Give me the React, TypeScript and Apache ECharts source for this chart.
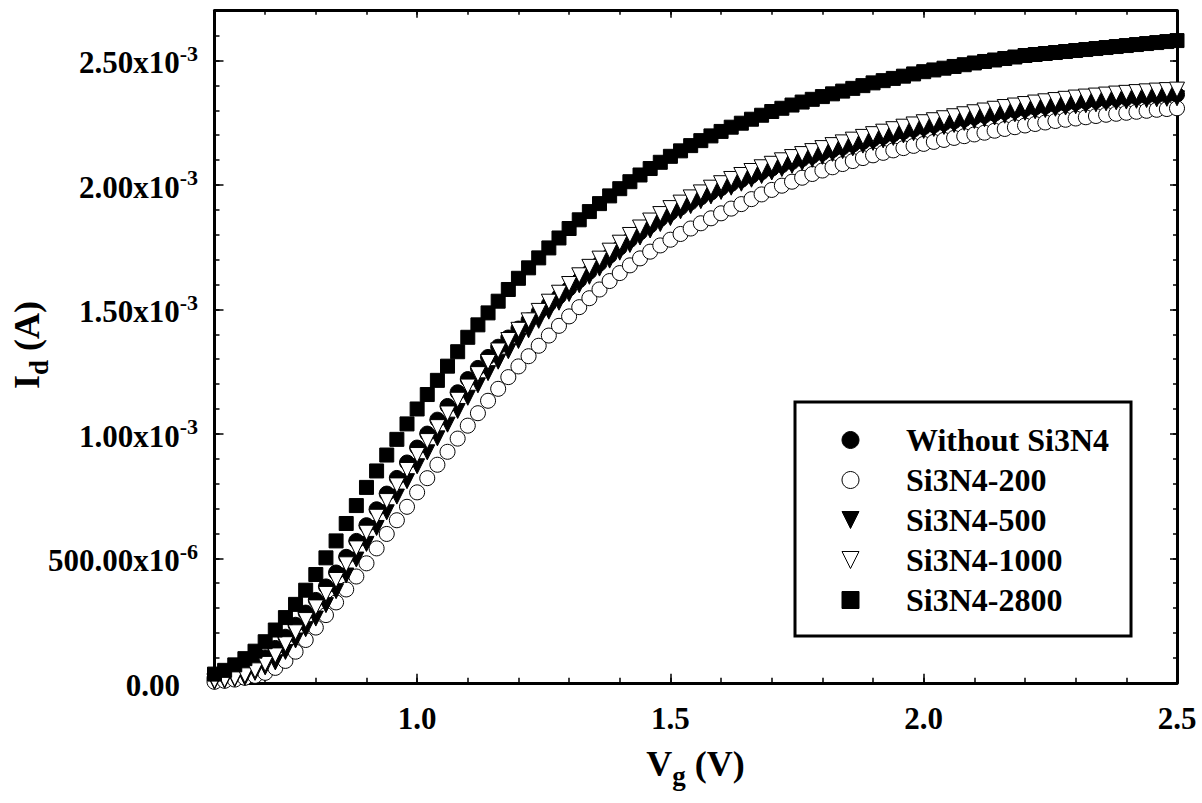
import React, { useEffect, useRef } from 'react';
import * as echarts from 'echarts';

// Gate voltage sweep (V)
const gateVoltage = [
  0.60, 0.62, 0.64, 0.66, 0.68, 0.70, 0.72, 0.74, 0.76, 0.78,
  0.80, 0.82, 0.84, 0.86, 0.88, 0.90, 0.92, 0.94, 0.96, 0.98,
  1.00, 1.02, 1.04, 1.06, 1.08, 1.10, 1.12, 1.14, 1.16, 1.18,
  1.20, 1.22, 1.24, 1.26, 1.28, 1.30, 1.32, 1.34, 1.36, 1.38,
  1.40, 1.42, 1.44, 1.46, 1.48, 1.50, 1.52, 1.54, 1.56, 1.58,
  1.60, 1.62, 1.64, 1.66, 1.68, 1.70, 1.72, 1.74, 1.76, 1.78,
  1.80, 1.82, 1.84, 1.86, 1.88, 1.90, 1.92, 1.94, 1.96, 1.98,
  2.00, 2.02, 2.04, 2.06, 2.08, 2.10, 2.12, 2.14, 2.16, 2.18,
  2.20, 2.22, 2.24, 2.26, 2.28, 2.30, 2.32, 2.34, 2.36, 2.38,
  2.40, 2.42, 2.44, 2.46, 2.48, 2.50,
];

// Drain current per device, in mA
const idWithout = [
  0.018, 0.024, 0.032, 0.048, 0.072, 0.102, 0.140, 0.185, 0.233, 0.282,
  0.333, 0.387, 0.443, 0.506, 0.570, 0.633, 0.697, 0.760, 0.823, 0.885,
  0.945, 1.001, 1.057, 1.112, 1.167, 1.220, 1.265, 1.309, 1.350, 1.387,
  1.423, 1.456, 1.489, 1.521, 1.552, 1.584, 1.617, 1.651, 1.684, 1.716,
  1.748, 1.779, 1.809, 1.837, 1.863, 1.887, 1.909, 1.930, 1.950, 1.969,
  1.987, 2.004, 2.020, 2.036, 2.051, 2.065, 2.079, 2.092, 2.104, 2.116,
  2.128, 2.140, 2.151, 2.162, 2.173, 2.184, 2.194, 2.204, 2.214, 2.223,
  2.232, 2.240, 2.248, 2.256, 2.264, 2.272, 2.279, 2.286, 2.293, 2.299,
  2.305, 2.311, 2.316, 2.321, 2.326, 2.331, 2.335, 2.339, 2.343, 2.347,
  2.350, 2.353, 2.356, 2.359, 2.361, 2.363,
];

const id200 = [
  0.004, 0.008, 0.013, 0.020, 0.028, 0.040, 0.060, 0.088, 0.125, 0.172,
  0.222, 0.272, 0.323, 0.375, 0.427, 0.480, 0.540, 0.598, 0.653, 0.707,
  0.765, 0.822, 0.876, 0.928, 0.981, 1.033, 1.083, 1.133, 1.181, 1.228,
  1.271, 1.312, 1.354, 1.395, 1.434, 1.472, 1.509, 1.545, 1.580, 1.614,
  1.646, 1.677, 1.705, 1.732, 1.757, 1.780, 1.803, 1.825, 1.846, 1.866,
  1.886, 1.905, 1.923, 1.943, 1.962, 1.980, 1.997, 2.013, 2.029, 2.044,
  2.058, 2.071, 2.084, 2.096, 2.108, 2.119, 2.129, 2.139, 2.148, 2.157,
  2.165, 2.173, 2.181, 2.189, 2.196, 2.203, 2.210, 2.218, 2.225, 2.232,
  2.239, 2.245, 2.251, 2.257, 2.262, 2.267, 2.272, 2.277, 2.282, 2.286,
  2.290, 2.294, 2.298, 2.302, 2.305, 2.308,
];

const id500 = [
  0.004, 0.008, 0.014, 0.020, 0.040, 0.062, 0.082, 0.124, 0.170, 0.215,
  0.258, 0.312, 0.368, 0.431, 0.495, 0.558, 0.622, 0.685, 0.748, 0.810,
  0.870, 0.926, 0.982, 1.037, 1.092, 1.145, 1.195, 1.244, 1.290, 1.332,
  1.373, 1.416, 1.454, 1.491, 1.527, 1.562, 1.597, 1.631, 1.664, 1.696,
  1.728, 1.759, 1.789, 1.817, 1.843, 1.867, 1.894, 1.915, 1.935, 1.954,
  1.972, 1.989, 2.005, 2.021, 2.036, 2.050, 2.064, 2.077, 2.089, 2.101,
  2.113, 2.125, 2.136, 2.147, 2.158, 2.169, 2.179, 2.189, 2.199, 2.208,
  2.217, 2.225, 2.233, 2.241, 2.249, 2.257, 2.264, 2.271, 2.278, 2.284,
  2.290, 2.296, 2.301, 2.306, 2.311, 2.316, 2.320, 2.324, 2.328, 2.332,
  2.335, 2.338, 2.341, 2.344, 2.346, 2.348,
];

const id1000 = [
  0.008, 0.012, 0.018, 0.030, 0.050, 0.076, 0.110, 0.155, 0.203, 0.252,
  0.303, 0.357, 0.413, 0.476, 0.540, 0.603, 0.667, 0.730, 0.793, 0.855,
  0.915, 0.971, 1.027, 1.082, 1.137, 1.190, 1.240, 1.289, 1.335, 1.377,
  1.418, 1.456, 1.494, 1.531, 1.567, 1.602, 1.637, 1.671, 1.704, 1.736,
  1.768, 1.799, 1.829, 1.857, 1.883, 1.907, 1.929, 1.950, 1.970, 1.989,
  2.007, 2.024, 2.040, 2.056, 2.071, 2.085, 2.099, 2.112, 2.124, 2.136,
  2.148, 2.160, 2.171, 2.182, 2.193, 2.204, 2.214, 2.224, 2.234, 2.243,
  2.252, 2.260, 2.268, 2.276, 2.284, 2.292, 2.299, 2.306, 2.313, 2.319,
  2.325, 2.331, 2.336, 2.341, 2.346, 2.351, 2.355, 2.359, 2.363, 2.367,
  2.370, 2.373, 2.376, 2.379, 2.381, 2.383,
];

const id2800 = [
  0.035, 0.050, 0.072, 0.097, 0.127, 0.165, 0.212, 0.262, 0.315, 0.372,
  0.435, 0.502, 0.570, 0.640, 0.712, 0.785, 0.851, 0.915, 0.978, 1.040,
  1.100, 1.158, 1.215, 1.272, 1.330, 1.388, 1.438, 1.486, 1.533, 1.580,
  1.625, 1.667, 1.707, 1.747, 1.787, 1.825, 1.860, 1.893, 1.925, 1.956,
  1.985, 2.013, 2.040, 2.066, 2.091, 2.115, 2.137, 2.158, 2.178, 2.197,
  2.215, 2.232, 2.248, 2.264, 2.280, 2.295, 2.308, 2.321, 2.333, 2.344,
  2.355, 2.366, 2.377, 2.388, 2.399, 2.410, 2.419, 2.428, 2.437, 2.446,
  2.455, 2.462, 2.469, 2.476, 2.483, 2.490, 2.496, 2.502, 2.508, 2.514,
  2.520, 2.524, 2.528, 2.532, 2.536, 2.540, 2.544, 2.548, 2.552, 2.556,
  2.560, 2.564, 2.568, 2.572, 2.576, 2.580,
];

const seriesNames = ['Without Si3N4', 'Si3N4-200', 'Si3N4-500', 'Si3N4-1000', 'Si3N4-2800'];

// Axis ticks
const vgMajorTicks = [1.0, 1.5, 2.0, 2.5];
const idMajorTicks = [0, 0.0005, 0.001, 0.0015, 0.002, 0.0025];

const SERIF = '"Liberation Serif", "Times New Roman", serif';

// Downward-pointing triangle used as a legend icon
const DOWN_TRIANGLE = 'path://M0,0L20,0L10,20Z';

function toPoints(current: number[]) {
  return gateVoltage.map((v, i) => [v, current[i] * 1e-3]);
}

function idLabel(v: number): string {
  if (v === 0) return '{m|0.00}{gap| }';
  if (v < 0.00099) return `{m|${(v * 1e6).toFixed(2)}x10}{s|-6}`;
  return `{m|${(v * 1e3).toFixed(2)}x10}{s|-3}`;
}

// Rich styles for a title with a lowered subscript
const titleRich = {
  m: { fontFamily: SERIF, fontWeight: 'bold', fontSize: 36, lineHeight: 44, verticalAlign: 'top', fill: '#000' },
  s: { fontFamily: SERIF, fontWeight: 'bold', fontSize: 27, lineHeight: 44, verticalAlign: 'bottom', fill: '#000' },
};

export default function App() {
  const ref = useRef<HTMLDivElement>(null);

  useEffect(() => {
    if (!ref.current) return;
    const chart = echarts.init(ref.current, undefined, { renderer: 'svg' });

    const black = '#000';
    const tickStyle = { color: black, width: 1.5 };
    const vgRange = { min: 0.6, max: 2.5 };
    const idRange = { min: 0, max: 0.0027 };

    const markerBase = (fill: string) => ({
      color: fill,
      borderColor: black,
      borderWidth: 1,
      opacity: 1,
    });

    chart.setOption({
      animation: false,
      backgroundColor: '#fff',
      grid: {
        left: 214.5,
        top: 10.7,
        right: 25,
        bottom: 120.2,
        containLabel: false,
        outerBoundsMode: 'none',
      },
      xAxis: [
        {
          type: 'value',
          position: 'bottom',
          ...vgRange,
          axisLine: { show: true, onZero: false, lineStyle: { color: black, width: 3 } },
          axisTick: { show: true, inside: true, length: 9, lineStyle: tickStyle, customValues: vgMajorTicks },
          axisLabel: {
            show: true,
            customValues: vgMajorTicks,
            margin: 20,
            formatter: (v: number) => v.toFixed(1),
            fontFamily: SERIF,
            fontWeight: 'bold',
            fontSize: 31,
            color: black,
          },
          splitLine: { show: false },
        },
        {
          type: 'value',
          position: 'bottom',
          ...vgRange,
          interval: 0.1,
          axisLine: { show: false, onZero: false },
          axisTick: { show: true, inside: true, length: 5, lineStyle: tickStyle },
          axisLabel: { show: false },
          splitLine: { show: false },
        },
        {
          type: 'value',
          position: 'top',
          ...vgRange,
          axisLine: { show: true, onZero: false, lineStyle: { color: black, width: 3 } },
          axisTick: { show: true, inside: true, length: 7, lineStyle: tickStyle, customValues: vgMajorTicks },
          axisLabel: { show: false },
          splitLine: { show: false },
        },
        {
          type: 'value',
          position: 'top',
          ...vgRange,
          interval: 0.1,
          axisLine: { show: false, onZero: false },
          axisTick: { show: true, inside: true, length: 4, lineStyle: tickStyle },
          axisLabel: { show: false },
          splitLine: { show: false },
        },
      ],
      yAxis: [
        {
          type: 'value',
          position: 'left',
          ...idRange,
          axisLine: { show: true, onZero: false, lineStyle: { color: black, width: 3 } },
          axisTick: { show: true, inside: true, length: 9, lineStyle: tickStyle, customValues: idMajorTicks },
          axisLabel: {
            show: true,
            customValues: idMajorTicks,
            margin: 16.5,
            formatter: idLabel,
            color: black,
            rich: {
              m: {
                fontFamily: SERIF,
                fontWeight: 'bold',
                fontSize: 31,
                lineHeight: 36,
                verticalAlign: 'bottom',
                color: black,
              },
              s: {
                fontFamily: SERIF,
                fontWeight: 'bold',
                fontSize: 22,
                lineHeight: 22,
                verticalAlign: 'top',
                color: black,
              },
              gap: { width: 18, fontSize: 31, lineHeight: 36, color: black },
            },
          },
          splitLine: { show: false },
        },
        {
          type: 'value',
          position: 'left',
          ...idRange,
          interval: 0.0001,
          axisLine: { show: false, onZero: false },
          axisTick: { show: true, inside: true, length: 5, lineStyle: tickStyle },
          axisLabel: { show: false },
          splitLine: { show: false },
        },
        {
          type: 'value',
          position: 'right',
          ...idRange,
          axisLine: { show: true, onZero: false, lineStyle: { color: black, width: 3 } },
          axisTick: { show: true, inside: true, length: 7, lineStyle: tickStyle, customValues: idMajorTicks },
          axisLabel: { show: false },
          splitLine: { show: false },
        },
        {
          type: 'value',
          position: 'right',
          ...idRange,
          interval: 0.0001,
          axisLine: { show: false, onZero: false },
          axisTick: { show: true, inside: true, length: 4, lineStyle: tickStyle },
          axisLabel: { show: false },
          splitLine: { show: false },
        },
      ],
      legend: {
        show: true,
        orient: 'vertical',
        left: 795,
        top: 402,
        padding: [22, 22, 20, 46.5],
        itemGap: 8,
        itemWidth: 17,
        itemHeight: 17,
        selectedMode: false,
        backgroundColor: '#fff',
        borderColor: black,
        borderWidth: 3,
        borderRadius: 0,
        itemStyle: { borderWidth: 1, borderColor: black },
        textStyle: {
          fontFamily: SERIF,
          fontWeight: 'bold',
          fontSize: 32,
          color: black,
          padding: [0, 0, 0, 42],
        },
        data: [
          { name: seriesNames[0] },
          { name: seriesNames[1] },
          { name: seriesNames[2], icon: DOWN_TRIANGLE },
          { name: seriesNames[3], icon: DOWN_TRIANGLE },
          { name: seriesNames[4] },
        ],
      },
      graphic: [
        {
          type: 'text',
          x: 695.5,
          y: 767.5,
          style: {
            text: '{m|V}{s|g}{m| (V)}',
            align: 'center',
            verticalAlign: 'middle',
            fill: black,
            rich: titleRich,
          },
        },
        {
          type: 'text',
          x: 30.5,
          y: 345,
          rotation: Math.PI / 2,
          style: {
            text: '{m|I}{s|d}{m| (A)}',
            align: 'center',
            verticalAlign: 'middle',
            fill: black,
            rich: titleRich,
          },
        },
      ],
      series: [
        {
          name: seriesNames[0],
          type: 'scatter',
          data: toPoints(idWithout),
          symbol: 'circle',
          symbolSize: 15,
          itemStyle: markerBase(black),
          emphasis: { disabled: true },
        },
        {
          name: seriesNames[1],
          type: 'scatter',
          data: toPoints(id200),
          symbol: 'circle',
          symbolSize: 15,
          itemStyle: markerBase('#fff'),
          emphasis: { disabled: true },
        },
        {
          name: seriesNames[2],
          type: 'scatter',
          data: toPoints(id500),
          symbol: 'triangle',
          symbolRotate: 180,
          symbolSize: 15,
          itemStyle: markerBase(black),
          emphasis: { disabled: true },
        },
        {
          name: seriesNames[3],
          type: 'scatter',
          data: toPoints(id1000),
          symbol: 'triangle',
          symbolRotate: 180,
          symbolSize: 15,
          itemStyle: markerBase('#fff'),
          emphasis: { disabled: true },
        },
        {
          name: seriesNames[4],
          type: 'scatter',
          data: toPoints(id2800),
          symbol: 'rect',
          symbolSize: 14,
          itemStyle: markerBase(black),
          emphasis: { disabled: true },
        },
      ],
    });

    return () => {
      chart.dispose();
    };
  }, []);

  return (
    <div
      ref={ref}
      style={{ position: 'absolute', left: 0, top: 0, width: 1202, height: 803, background: '#fff' }}
    />
  );
}
